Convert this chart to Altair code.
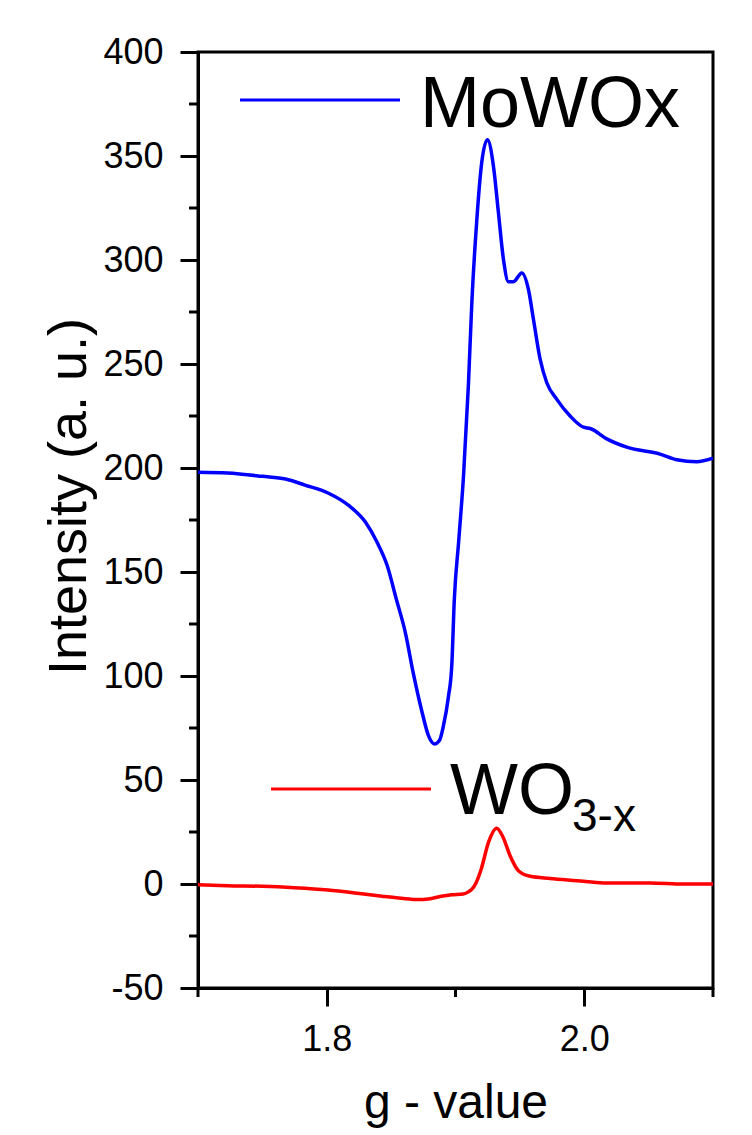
import altair as alt
import pandas as pd

# ---- data ----
g_mowox = [1.700, 1.723, 1.750, 1.768, 1.783, 1.801, 1.817, 1.830, 1.839, 1.847,
           1.854, 1.861, 1.867, 1.874, 1.879, 1.8836, 1.8875, 1.8906, 1.8945, 1.8971,
           1.8991, 1.9025, 1.9062, 1.910, 1.9127, 1.9166, 1.9204, 1.9248, 1.9295, 1.9333,
           1.9372, 1.9411, 1.945, 1.9515, 1.9566, 1.9605, 1.9657, 1.9709, 1.9787, 1.989,
           1.9994, 2.0046, 2.0175, 2.033, 2.0589, 2.0719, 2.0874, 2.100]
i_mowox = [198, 197.6, 196, 194.7, 191.8, 188, 182, 174, 164.4, 153,
           137, 121, 102, 82.7, 71.3, 67.3, 69, 76, 90, 105,
           137, 165, 196, 239.6, 279.7, 319.7, 347, 357.8, 345, 323,
           300.5, 289.6, 289.6, 293.8, 286, 271.6, 252.4, 241, 233, 225,
           219.6, 219, 214, 210, 206.7, 204, 203, 204.7]

g_wo3x = [1.700, 1.723, 1.750, 1.775, 1.801, 1.822, 1.843, 1.858, 1.871, 1.879,
          1.889, 1.897, 1.906, 1.910, 1.914, 1.917, 1.920, 1.9256, 1.932, 1.937,
          1.9424, 1.9489, 1.958, 1.9735, 1.9943, 2.015, 2.051, 2.077, 2.100]
i_wo3x = [-0.3, -0.8, -1.1, -1.8, -2.9, -4.3, -5.9, -6.9, -7.5, -7.2,
          -5.9, -5.2, -4.8, -3.8, -1.6, 2, 7.2, 20, 26.8, 22.4,
          13.6, 6.4, 3.7, 2.7, 1.6, 0.5, 0.5, 0, 0]

series_names = ["MoWOx", "WO3-x"]
series_colors = ["#0000FF", "#FF0000"]

x_major = [1.8, 2.0]
x_minor = [1.7, 1.9, 2.1]
y_major = [-50, 0, 50, 100, 150, 200, 250, 300, 350, 400]
y_minor = [-25, 25, 75, 125, 175, 225, 275, 325, 375]

x_title = "g - value"
y_title = "Intensity (a. u.)"

# ---- layout ----
W, H = 515, 936
FONT = "Liberation Sans"
LW = 3

df = pd.concat([
    pd.DataFrame({"g": g_mowox, "intensity": i_mowox, "series": series_names[0]}),
    pd.DataFrame({"g": g_wo3x, "intensity": i_wo3x, "series": series_names[1]}),
])

x_scale = alt.Scale(domain=[1.7, 2.1], nice=False, zero=False)
y_scale = alt.Scale(domain=[-50, 400], nice=False, zero=False)

x_axis = alt.Axis(values=x_major, format=".1f", tickSize=18, labelPadding=16,
                  title=x_title, titleX=W / 2, titleY=129, titleAlign="center",
                  titleBaseline="alphabetic", titleFontSize=48)
y_axis = alt.Axis(values=y_major, tickSize=18, labelPadding=17,
                  labelExpr="'' + datum.value",
                  title=y_title, titleAngle=270, titleX=-113, titleY=444,
                  titleAlign="center", titleBaseline="alphabetic", titleFontSize=54)

lines = alt.Chart(df).mark_line(strokeWidth=3.5, clip=True, interpolate="monotone").encode(
    x=alt.X("g:Q", scale=x_scale, axis=x_axis),
    y=alt.Y("intensity:Q", scale=y_scale, axis=y_axis),
    color=alt.Color("series:N", scale=alt.Scale(domain=series_names, range=series_colors),
                    legend=None),
)

xminor = alt.Chart(pd.DataFrame({"g": x_minor})).mark_rule(
    color="black", strokeWidth=LW).encode(
    x=alt.X("g:Q", scale=x_scale, axis=x_axis),
    y=alt.value(H), y2=alt.value(H + 9))

yminor = alt.Chart(pd.DataFrame({"intensity": y_minor})).mark_rule(
    color="black", strokeWidth=LW).encode(
    y=alt.Y("intensity:Q", scale=y_scale, axis=y_axis),
    x=alt.value(0), x2=alt.value(-9))

# legend-like annotations
one = pd.DataFrame({"k": [0]})
leg_line1 = alt.Chart(one).mark_rule(color=series_colors[0], strokeWidth=LW).encode(
    x=alt.value(42), x2=alt.value(202), y=alt.value(48))
leg_line2 = alt.Chart(one).mark_rule(color=series_colors[1], strokeWidth=LW).encode(
    x=alt.value(73), x2=alt.value(233), y=alt.value(737))

leg_text1 = alt.Chart(pd.DataFrame({"t": ["MoWOx"]})).mark_text(
    font=FONT, fontSize=72, align="left", baseline="alphabetic", color="black").encode(
    text="t:N", x=alt.value(222), y=alt.value(75))
leg_text2 = alt.Chart(pd.DataFrame({"t": ["WO"]})).mark_text(
    font=FONT, fontSize=72, align="left", baseline="alphabetic", color="black").encode(
    text="t:N", x=alt.value(252), y=alt.value(762))
leg_text3 = alt.Chart(pd.DataFrame({"t": ["3-x"]})).mark_text(
    font=FONT, fontSize=46, align="left", baseline="alphabetic", color="black").encode(
    text="t:N", x=alt.value(374), y=alt.value(779))

chart = alt.layer(
    lines, xminor, yminor, leg_line1, leg_line2, leg_text1, leg_text2, leg_text3
).properties(
    width=W, height=H,
    autosize=alt.AutoSizeParams(type="none"),
    padding={"left": 198, "top": 52, "right": 39, "bottom": 147},
    background="white",
).configure_view(
    stroke="black", strokeWidth=LW
).configure_axis(
    grid=False, domainColor="black", domainWidth=LW, tickColor="black", tickWidth=LW,
    labelFont=FONT, labelFontSize=36, labelColor="black",
    titleFont=FONT, titleFontWeight="normal", titleColor="black",
    labelOverlap=False, labelFlush=False,
)

chart.save("out.html", embed_options={"renderer": "svg", "actions": False})
